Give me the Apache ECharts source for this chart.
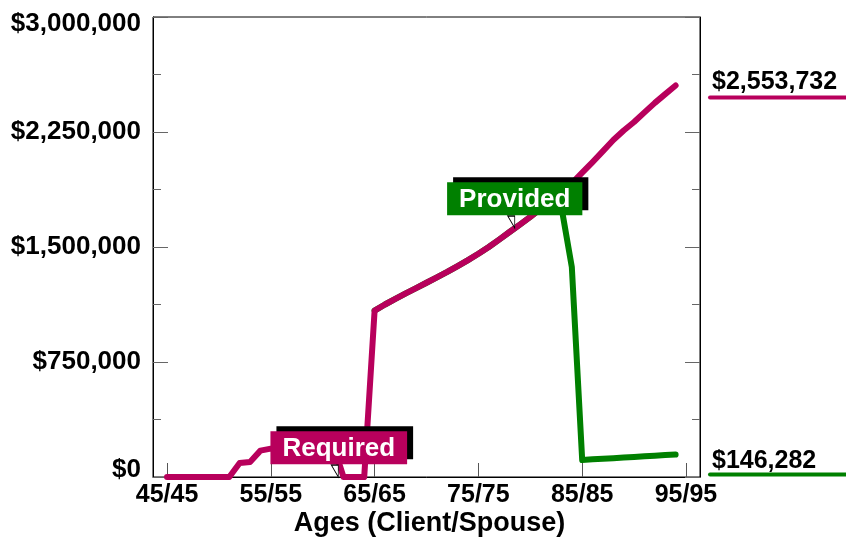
<!DOCTYPE html>
<html>
<head>
<meta charset="utf-8">
<script src="https://cdn.jsdelivr.net/npm/echarts@6/dist/echarts.min.js"></script>
<style>
  html, body { margin: 0; padding: 0; background: #fff; }
  #chart { width: 846px; height: 537px; }
</style>
</head>
<body>
<div id="chart"></div>
<script>
// ages 45..94, one point per year
var ages = []
for (var a = 45; a <= 94; a++) ages.push(a)

var required = [
  0, 0, 0, 0, 0, 0, 0, 91000, 98000, 172000,                 // 45-54
  185000, 190000, 195000, 200000, 205000, 210000, 215000, 0, 0, 0, // 55-64
  1085000, 1125000, 1162000, 1198000, 1232000, 1267000, 1302000, 1338000, 1376000, 1415000, // 65-74
  1456000, 1500000, 1548000, 1598000, 1646000, 1696000, 1750000, 1806000, 1858000, 1915000, // 75-84
  1985000, 2054000, 2125000, 2198000, 2260000, 2315000, 2378000, 2440000, 2497000, 2553732  // 85-94
]
var provided = [
  null, null, null, null, null, null, null, null, null, null,
  null, null, null, null, null, null, null, null, null, null,
  1085000, 1125000, 1162000, 1198000, 1232000, 1267000, 1302000, 1338000, 1376000, 1415000,
  1456000, 1500000, 1548000, 1598000, 1646000, 1696000, 1750000, 1806000, 1760000, 1370000,
  111000, 115000, 119000, 123000, 127000, 131000, 135000, 139000, 143000, 146282
]
var xTicks = [45, 55, 65, 75, 85, 95]
var yTicks = [0, 750000, 1500000, 2250000, 3000000]
var requiredNote = [61.5, 0]
var providedNote = [78.5, 1624000]

var RED = '#b8005c'
var GREEN = '#008000'
var FONT = 'Liberation Sans'

function money (v) {
  return '$' + Math.round(v).toString().replace(/\B(?=(\d{3})+(?!\d))/g, ',')
}
function pairs (vals) {
  return ages.map(function (a, i) { return [a, vals[i]] })
}

var chart = echarts.init(document.getElementById('chart'))

var yAxisBase = {
  type: 'value',
  min: yTicks[0],
  max: yTicks[yTicks.length - 1],
  interval: yTicks[1] - yTicks[0],
  axisLine: { show: true, lineStyle: { color: '#000', width: 1 } },
  axisTick: { show: true, inside: true, length: 15, lineStyle: { color: '#666' } },
  minorTick: { show: true, splitNumber: 2, length: 8, lineStyle: { color: '#666' } },
  splitLine: { show: false }
}

chart.setOption({
  animation: false,
  grid: {
    left: 153, right: 146, top: 17, bottom: 60,
    containLabel: false,
    outerBoundsMode: 'none',
    show: true, borderColor: '#000', borderWidth: 1
  },
  xAxis: {
    type: 'value',
    min: 43.65,
    max: 96.35,
    name: 'Ages (Client/Spouse)',
    nameLocation: 'middle',
    nameGap: 33,
    nameMoveOverlap: false,
    nameTextStyle: { fontFamily: FONT, fontWeight: 'bold', fontSize: 27, color: '#000', padding: [0, 0, 0, 6] },
    axisLine: { show: true, lineStyle: { color: '#000', width: 1 } },
    axisTick: { show: true, inside: true, length: 14, customValues: xTicks, lineStyle: { color: '#555' } },
    axisLabel: {
      customValues: xTicks,
      margin: 6,
      fontFamily: FONT,
      fontWeight: 'bold',
      fontSize: 25,
      color: '#000',
      formatter: function (v) { return v + '/' + v }
    },
    splitLine: { show: false }
  },
  yAxis: [
    Object.assign({}, yAxisBase, {
      position: 'left',
      axisLabel: {
        margin: 12,
        fontFamily: FONT,
        fontWeight: 'bold',
        fontSize: 26,
        color: '#000',
        formatter: function (v) {
          if (v === yTicks[yTicks.length - 1]) return '{top|' + money(v) + '}'
          if (v === yTicks[0]) return '{bot|' + money(v) + '}'
          return money(v)
        },
        rich: {
          top: { fontFamily: FONT, fontWeight: 'bold', fontSize: 26, color: '#000', padding: [14, 0, 0, 0] },
          bot: { fontFamily: FONT, fontWeight: 'bold', fontSize: 26, color: '#000', padding: [0, 0, 14, 0] }
        }
      }
    }),
    Object.assign({}, yAxisBase, {
      position: 'right',
      axisLabel: { show: false }
    })
  ],
  series: [
    {
      name: 'Provided',
      type: 'line',
      data: pairs(provided),
      symbol: 'none',
      z: 2,
      silent: true,
      lineStyle: { color: GREEN, width: 6, cap: 'round', join: 'round' }
    },
    {
      name: 'Required',
      type: 'line',
      data: pairs(required),
      symbol: 'none',
      z: 3,
      silent: true,
      lineStyle: { color: RED, width: 6, cap: 'round', join: 'round' }
    },
    {
      // callout boxes
      name: 'notes',
      type: 'line',
      data: [],
      z: 5,
      silent: true,
      markPoint: {
        silent: true,
        symbol: 'path://M0,0 L7,0 L7,12 Z',
        symbolSize: [7, 12],
        symbolOffset: [-3.5, -6],
        itemStyle: { color: '#fff', borderColor: '#000', borderWidth: 1 },
        label: {
          show: true,
          position: 'top',
          distance: 0,
          fontFamily: FONT,
          fontWeight: 'bold',
          fontSize: 26,
          lineHeight: 26,
          color: '#fff',
          padding: [4, 12, 3, 12],
          shadowColor: '#000',
          shadowBlur: 0,
          shadowOffsetX: 6,
          shadowOffsetY: -5
        },
        data: [
          {
            coord: requiredNote,
            label: { formatter: 'Required', backgroundColor: RED, offset: [4, 0] }
          },
          {
            coord: providedNote,
            label: { formatter: 'Provided', backgroundColor: GREEN, offset: [3.5, 0] }
          }
        ]
      }
    }
  ]
})

// end-value labels to the right of the plot
var xRight = chart.convertToPixel({ xAxisIndex: 0 }, 96.35)
var lastReq = required[required.length - 1]
var lastProv = provided[provided.length - 1]
var yReq = chart.convertToPixel({ yAxisIndex: 0 }, lastReq)
var yProv = chart.convertToPixel({ yAxisIndex: 0 }, lastProv)

function endLabel (text, y, lineY, color) {
  return [
    {
      type: 'text',
      left: xRight + 12,
      top: y - 13,
      silent: true,
      style: { text: text, fontFamily: FONT, fontWeight: 'bold', fontSize: 25, fill: '#000' }
    },
    {
      type: 'line',
      silent: true,
      shape: { x1: xRight + 10, y1: lineY, x2: 846, y2: lineY },
      style: { stroke: color, lineWidth: 4, lineCap: 'round' }
    }
  ]
}

chart.setOption({
  graphic: endLabel(money(lastReq), yReq - 3, yReq + 12, RED)
    .concat(endLabel(money(lastProv), yProv + 7, yProv + 20, GREEN))
})
</script>
</body>
</html>
